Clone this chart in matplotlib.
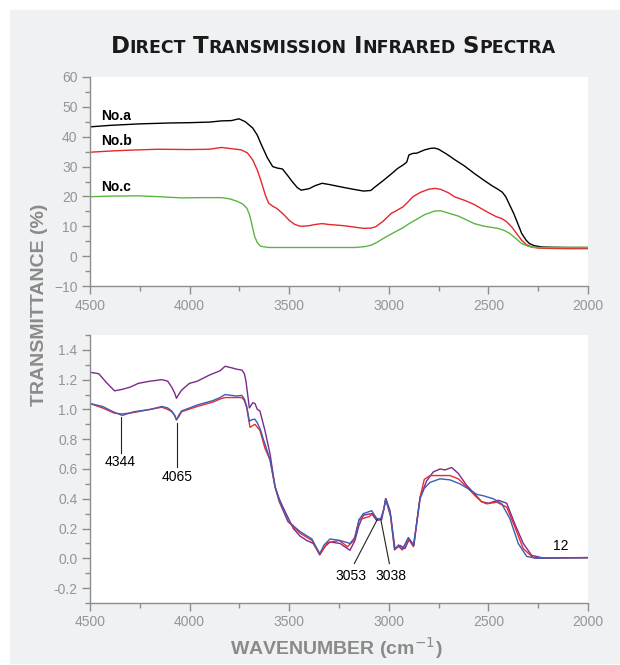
import numpy as np
import matplotlib
matplotlib.use('Agg')
import matplotlib.pyplot as plt
from matplotlib.patches import Rectangle
from matplotlib.ticker import MultipleLocator

# ---- top panel: transmittance (%) ----
wn_a = [4500, 4400, 4250, 4100, 4000, 3900, 3840, 3790, 3752, 3720, 3683, 3660, 3643,
        3610, 3583, 3560, 3534, 3510, 3484, 3460, 3440, 3400, 3370, 3335, 3300, 3226,
        3170, 3127, 3090, 3067, 3030, 2988, 2955, 2929, 2910, 2899, 2880, 2859, 2820,
        2790, 2770, 2750, 2710, 2671, 2620, 2571, 2520, 2480, 2452, 2430, 2413, 2395,
        2373, 2350, 2333, 2310, 2294, 2270, 2234, 2200, 2100, 2000]
t_a = [43.3, 43.8, 44.3, 44.6, 44.7, 44.9, 45.3, 45.4, 46.0, 45.0, 42.9, 40.5, 37.8,
       33.0, 30.0, 29.5, 29.2, 27.2, 24.9, 23.0, 22.1, 22.6, 23.6, 24.4, 24.0, 23.0,
       22.3, 21.8, 22.0, 23.3, 25.2, 27.5, 29.4, 30.5, 31.5, 33.9, 34.4, 34.5, 35.6,
       36.1, 36.2, 35.8, 34.2, 32.4, 30.2, 27.7, 25.3, 23.5, 22.4, 21.4, 19.9, 17.4,
       14.3, 10.5, 7.6, 5.3, 4.2, 3.5, 3.1, 3.0, 2.9, 2.9]

wn_b = [4500, 4400, 4300, 4159, 4000, 3900, 3841, 3790, 3742, 3710, 3683, 3660, 3643,
        3620, 3603, 3580, 3563, 3540, 3524, 3500, 3474, 3450, 3435, 3400, 3370, 3335,
        3300, 3226, 3170, 3127, 3090, 3067, 3030, 2988, 2955, 2929, 2900, 2879, 2840,
        2800, 2770, 2740, 2700, 2671, 2620, 2571, 2530, 2492, 2460, 2433, 2410, 2383,
        2360, 2333, 2310, 2284, 2250, 2200, 2100, 2000]
t_b = [34.8, 35.2, 35.5, 35.8, 35.7, 35.8, 36.4, 36.0, 35.6, 34.6, 32.2, 28.8, 25.5,
       20.5, 17.7, 16.6, 16.0, 14.7, 13.7, 12.0, 10.7, 10.1, 10.0, 10.2, 10.6, 10.9,
       10.6, 10.2, 9.7, 9.3, 9.4, 9.8, 11.6, 14.3, 15.5, 16.5, 18.4, 19.9, 21.4,
       22.4, 22.7, 22.4, 21.2, 19.9, 18.7, 17.3, 15.7, 14.3, 13.2, 12.6, 11.6, 9.8,
       7.7, 5.3, 3.9, 3.1, 2.7, 2.6, 2.5, 2.5]

wn_c = [4500, 4400, 4258, 4150, 4040, 3950, 3841, 3800, 3762, 3732, 3712, 3700, 3692,
        3683, 3673, 3660, 3643, 3603, 3500, 3400, 3300, 3167, 3120, 3087, 3060, 3028,
        2980, 2929, 2900, 2869, 2820, 2770, 2740, 2710, 2650, 2571, 2520, 2452, 2420,
        2393, 2360, 2333, 2300, 2274, 2200, 2100, 2000]
t_c = [19.9, 20.1, 20.2, 19.9, 19.5, 19.6, 19.6, 19.2, 18.4, 17.4, 16.0, 14.0, 12.0,
       9.3, 6.5, 4.5, 3.3, 2.9, 2.9, 2.9, 2.9, 2.9, 3.2, 3.7, 4.6, 5.9,
       7.7, 9.5, 10.8, 12.0, 13.9, 15.1, 15.2, 14.6, 13.4, 10.9, 10.0, 9.3, 8.6,
       7.6, 5.8, 4.2, 3.3, 2.9, 2.9, 2.9, 2.9]

# ---- bottom panel ----
wn_p = [4500, 4456, 4417, 4377, 4338, 4298, 4258, 4199, 4139, 4110, 4090, 4075, 4066,
        4055, 4040, 4001, 3961, 3902, 3847, 3822, 3790, 3763, 3738, 3725, 3717, 3700,
        3683, 3672, 3660, 3647, 3622, 3596, 3571, 3550, 3530, 3479, 3446, 3412, 3380,
        3345, 3320, 3295, 3245, 3195, 3170, 3150, 3128, 3086, 3061, 3036, 3025, 3014,
        2994, 2969, 2944, 2919, 2897, 2874, 2843, 2810, 2777, 2743, 2718, 2684, 2651,
        2609, 2567, 2534, 2500, 2450, 2408, 2367, 2325, 2283, 2224, 2100, 2000]
y_p = [1.25, 1.24, 1.18, 1.125, 1.135, 1.15, 1.175, 1.19, 1.20, 1.19, 1.15, 1.11, 1.075,
       1.10, 1.13, 1.175, 1.19, 1.23, 1.26, 1.29, 1.28, 1.27, 1.265, 1.24, 1.19, 1.01,
       1.045, 1.04, 1.0, 0.99, 0.86, 0.70, 0.48, 0.40, 0.34, 0.20, 0.15, 0.12, 0.10,
       0.03, 0.08, 0.11, 0.10, 0.054, 0.12, 0.22, 0.29, 0.30, 0.255, 0.26, 0.33, 0.40,
       0.32, 0.065, 0.087, 0.065, 0.13, 0.087, 0.41, 0.52, 0.58, 0.60, 0.594, 0.61, 0.57,
       0.49, 0.43, 0.38, 0.37, 0.39, 0.37, 0.23, 0.10, 0.02, 0.002, 0.004, 0.005]

wn_r = [4500, 4437, 4377, 4338, 4278, 4199, 4139, 4110, 4090, 4075, 4066, 4055, 4040,
        3961, 3882, 3847, 3822, 3763, 3738, 3725, 3713, 3697, 3685, 3672, 3660, 3647,
        3630, 3622, 3596, 3571, 3550, 3506, 3446, 3386, 3347, 3325, 3307, 3248, 3208,
        3175, 3149, 3099, 3080, 3060, 3040, 3025, 3016, 2991, 2971, 2951, 2932, 2902,
        2876, 2843, 2822, 2793, 2743, 2693, 2651, 2609, 2567, 2534, 2509, 2458, 2408,
        2367, 2325, 2275, 2200, 2100, 2000]
y_r = [1.04, 1.01, 0.975, 0.97, 0.98, 1.0, 1.015, 1.0, 0.985, 0.96, 0.93, 0.95, 0.985,
       1.02, 1.05, 1.07, 1.08, 1.08, 1.08, 1.06, 1.01, 0.88, 0.89, 0.90, 0.88, 0.86,
       0.78, 0.74, 0.66, 0.48, 0.38, 0.246, 0.17, 0.12, 0.022, 0.07, 0.105, 0.12, 0.078,
       0.12, 0.26, 0.28, 0.30, 0.265, 0.265, 0.33, 0.40, 0.28, 0.056, 0.08, 0.056, 0.13,
       0.078, 0.41, 0.53, 0.556, 0.556, 0.556, 0.534, 0.48, 0.42, 0.38, 0.366, 0.377, 0.344,
       0.21, 0.065, 0.005, 0.002, 0.004, 0.005]

wn_bl = [4500, 4437, 4377, 4338, 4278, 4199, 4139, 4110, 4090, 4075, 4066, 4055, 4040,
         3961, 3882, 3847, 3822, 3763, 3738, 3725, 3713, 3700, 3690, 3673, 3660, 3643,
         3630, 3622, 3596, 3571, 3550, 3506, 3446, 3386, 3347, 3325, 3295, 3245, 3195,
         3170, 3149, 3128, 3086, 3060, 3040, 3025, 3016, 2991, 2971, 2951, 2932, 2902,
         2876, 2843, 2822, 2793, 2743, 2693, 2643, 2601, 2559, 2525, 2475, 2433, 2392,
         2350, 2308, 2258, 2200, 2100, 2000]
y_bl = [1.04, 1.02, 0.98, 0.96, 0.985, 1.0, 1.02, 1.01, 0.99, 0.96, 0.93, 0.96, 0.99,
        1.03, 1.06, 1.08, 1.10, 1.09, 1.095, 1.07, 1.02, 0.92, 0.93, 0.935, 0.91, 0.86,
        0.80, 0.77, 0.66, 0.48, 0.39, 0.25, 0.18, 0.13, 0.03, 0.09, 0.13, 0.12, 0.10,
        0.14, 0.26, 0.30, 0.32, 0.265, 0.265, 0.33, 0.40, 0.29, 0.06, 0.09, 0.06, 0.14,
        0.085, 0.40, 0.47, 0.51, 0.534, 0.527, 0.50, 0.467, 0.43, 0.42, 0.40, 0.366, 0.266,
        0.10, 0.013, 0.0, 0.002, 0.003, 0.004]

tick_gray = '#8e8e8e'
label_gray = '#8a8a8a'

fig = plt.figure(figsize=(6.2, 6.65), dpi=100)
fig.patches.append(Rectangle((10 / 620, 2 / 665), 610 / 620, 653 / 665,
                             transform=fig.transFigure, color='#f0f1f3', zorder=-10))

ax1 = fig.add_axes([90 / 620, 1 - 286 / 665, 498 / 620, 209 / 665])
ax2 = fig.add_axes([90 / 620, 1 - 603 / 665, 498 / 620, 268 / 665])

ax1.plot(wn_a, t_a, color='black', lw=1.0)
ax1.plot(wn_b, t_b, color='#e8262b', lw=1.0)
ax1.plot(wn_c, t_c, color='#5bb543', lw=1.0)
ax1.set_ylim(-10, 60)
ax1.yaxis.set_major_locator(MultipleLocator(10))
ax1.yaxis.set_minor_locator(MultipleLocator(5))
for s, yy in [('No.a', 46.8), ('No.b', 38.4), ('No.c', 23.0)]:
    ax1.text(4446, yy, s, fontsize=10, fontweight='bold', family='Liberation Sans',
             ha='left', va='center')

ax2.plot(wn_p, y_p, color='#7b2a8c', lw=1.0)
ax2.plot(wn_r, y_r, color='#ee2a2a', lw=1.0)
ax2.plot(wn_bl, y_bl, color='#3b5db5', lw=1.0)
ax2.set_ylim(-0.3, 1.5)
ax2.yaxis.set_minor_locator(MultipleLocator(0.1))
ax2.set_yticks(np.arange(-0.2, 1.41, 0.2))
ax2.set_yticklabels(['-0.2', '0.0', '0.2', '0.4', '0.6', '0.8', '1.0', '1.2', '1.4'])

# peak labels
akw = dict(fontsize=10, family='Liberation Sans', ha='center', va='center')
lkw = dict(color='#222222', lw=0.8)
ax2.plot([4344, 4344], [0.95, 0.71], **lkw)
ax2.text(4350, 0.645, '4344', **akw)
ax2.plot([4065, 4065], [0.91, 0.615], **lkw)
ax2.text(4065, 0.545, '4065', **akw)
ax2.plot([3058, 3173], [0.26, -0.035], **lkw)
ax2.text(3190, -0.12, '3053', **akw)
ax2.plot([3040, 2997], [0.26, -0.036], **lkw)
ax2.text(2990, -0.12, '3038', **akw)
ax2.text(2139, 0.085, '12', **akw)

for ax in (ax1, ax2):
    ax.set_xlim(4500, 2000)
    ax.xaxis.set_major_locator(MultipleLocator(500))
    ax.xaxis.set_minor_locator(MultipleLocator(250))
    ax.set_facecolor('white')
    for sp in ('top', 'right'):
        ax.spines[sp].set_visible(False)
    for sp in ('left', 'bottom'):
        ax.spines[sp].set_color(tick_gray)
        ax.spines[sp].set_linewidth(1.0)
    ax.tick_params(which='major', length=6, width=1.0, color=tick_gray,
                   labelcolor='#959595', labelsize=10, pad=3)
    ax.tick_params(which='minor', length=3.5, width=1.0, color=tick_gray)
    for lab in ax.get_xticklabels() + ax.get_yticklabels():
        lab.set_family('Liberation Sans')

# small-caps title
renderer = fig.canvas.get_renderer()
words = ['Direct', 'Transmission', 'Infrared', 'Spectra']
big, small = 16.5, 12.5
gap = 7
pieces = []
cx = 0.0
for w in words:
    for s, fs in [(w[0], big), (w[1:].upper(), small)]:
        t = fig.text(cx, 1 - 53 / 665, s, fontsize=fs, fontweight='bold',
                     family='DejaVu Sans', va='baseline', ha='left', color='#1a1a1a')
        wpx = t.get_window_extent(renderer).width
        pieces.append(t)
        cx += wpx / 620
    cx += gap / 620
cx -= gap / 620
off = 333 / 620 - cx / 2
for t in pieces:
    x0, y0 = t.get_position()
    t.set_position((x0 + off, y0))

fig.text(40 / 620, 1 - 305 / 665, 'TRANSMITTANCE (%)', rotation=90, fontsize=14,
         fontweight='bold', color=label_gray, ha='center', va='center', family='Liberation Sans')
fig.text(336 / 620, 1 - 648 / 665, 'WAVENUMBER (cm$^{-1}$)', fontsize=14,
         fontweight='bold', color=label_gray, ha='center', va='center', family='Liberation Sans')

fig.savefig('out.png', dpi=100)
